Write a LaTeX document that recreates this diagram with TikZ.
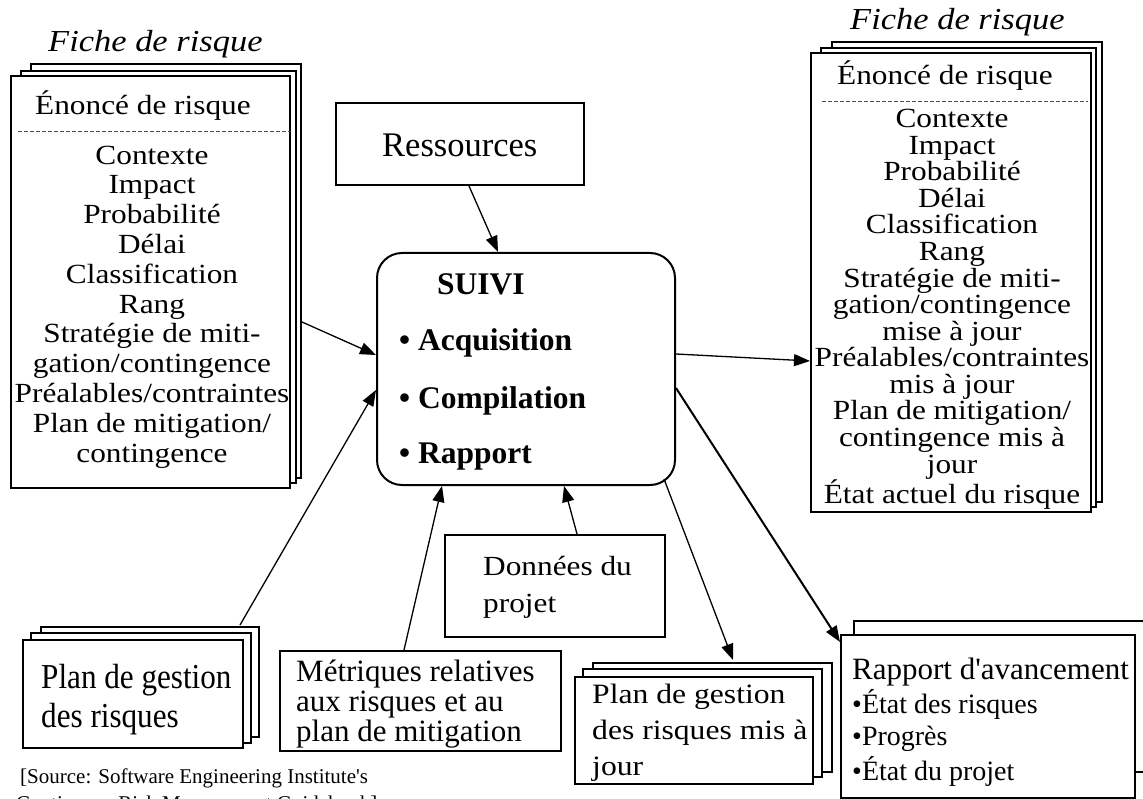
\documentclass[tikz,border=0pt]{standalone}
\usepackage{fontspec}
\newfontfamily\pl{Liberation Serif}
\newfontfamily\sq[FakeStretch=1.13]{Liberation Serif}
\newfontfamily\tl[FakeStretch=0.89]{Liberation Serif}
\newcommand\myfs[2]{\fontsize{#1}{#2}\selectfont}
\usetikzlibrary{arrows.meta,calc}
\begin{document}
\begin{tikzpicture}[x=1pt,y=-1pt,
  box/.style={draw,line width=2pt,fill=white,inner sep=0pt},
  layer/.style={draw,line width=2pt,fill=white},
  arr/.style={line width=1.3pt,-{Triangle[length=16pt,width=12pt]}},
  txt/.style={inner sep=0pt,align=center},
  sep/.style={dash pattern=on 4pt off 2pt,line width=1pt,black!70}]
\useasboundingbox[fill=white] (0,0) rectangle (1143,799);

% ---------- left stack : Fiche de risque ----------
\draw[layer] (31,64) rectangle (301,478);
\draw[layer] (21,71) rectangle (296,483);
\node[box,minimum width=279pt,minimum height=412pt] (lf) at (150.5,282) {};
\node[txt,anchor=base west,font=\sq\itshape\myfs{30.5}{34}] (lt) at (48,52) {Fiche de risque};
\node[txt,anchor=base west,font=\sq\myfs{27.7}{30}] (le) at (35,115) {Énoncé de risque};
\draw[sep] (18,132) -- (290,132);
\node[txt,font=\sq\myfs{27.7}{29.8}] (ll) at (152,307) {Contexte\\Impact\\Probabilité\\Délai\\Classification\\Rang\\Stratégie de miti-\\gation/contingence\\Préalables/contraintes\\Plan de mitigation/\\contingence};

% ---------- right stack : Fiche de risque ----------
\draw[layer] (832,42) rectangle (1102,502);
\draw[layer] (821,48) rectangle (1096,507);
\node[box,minimum width=280pt,minimum height=459pt] (rf) at (951,282.5) {};
\node[txt,anchor=base west,font=\sq\itshape\myfs{30.5}{34}] (rt) at (850,30) {Fiche de risque};
\node[txt,anchor=base west,font=\sq\myfs{27.7}{30}] (re) at (837,85) {Énoncé de risque};
\draw[sep] (822,102) -- (1088,102);
\node[txt,font=\sq\myfs{27.7}{26.57}] (rl) at (952,309.5) {Contexte\\Impact\\Probabilité\\Délai\\Classification\\Rang\\Stratégie de miti-\\gation/contingence\\mise à jour\\Préalables/contraintes\\mis à jour\\Plan de mitigation/\\contingence mis à\\jour\\État actuel du risque};

% ---------- Ressources ----------
\node[box,minimum width=248pt,minimum height=82pt] (res) at (460,144) {};
\node[txt,anchor=base west,font=\pl\myfs{34.5}{38}] (rest) at (382,157) {Ressources};

% ---------- SUIVI ----------
\node[box,rounded corners=25pt,minimum width=298pt,minimum height=232pt] (suivi) at (526,369) {};
\node[txt,anchor=base west,font=\pl\bfseries\myfs{31.5}{36}] (s0) at (437,295) {SUIVI};
\node[txt,anchor=base west,font=\pl\bfseries\myfs{31.5}{36}] (s1) at (399,351) {• Acquisition};
\node[txt,anchor=base west,font=\pl\bfseries\myfs{31.5}{36}] (s2) at (399,408) {• Compilation};
\node[txt,anchor=base west,font=\pl\bfseries\myfs{31.5}{36}] (s3) at (399,463) {• Rapport};

% ---------- Plan de gestion des risques ----------
\draw[layer] (41,627) rectangle (259,737);
\draw[layer] (31,633) rectangle (251,743);
\node[box,minimum width=220pt,minimum height=108pt] (pg) at (133,694) {};
\node[txt,anchor=base west,font=\tl\myfs{35}{39}] (pg1) at (41,688) {Plan de gestion};
\node[txt,anchor=base west,font=\tl\myfs{35}{39}] (pg2) at (41,727) {des risques};

% ---------- Métriques ----------
\node[box,minimum width=281pt,minimum height=100pt] (met) at (420.5,701) {};
\node[txt,anchor=base west,font=\pl\myfs{31}{30}] (m1) at (296,681) {Métriques relatives};
\node[txt,anchor=base west,font=\pl\myfs{31}{30}] (m2) at (296,711) {aux risques et au};
\node[txt,anchor=base west,font=\pl\myfs{31}{30}] (m3) at (296,741) {plan de mitigation};

% ---------- Données du projet ----------
\node[box,minimum width=220pt,minimum height=102pt] (don) at (555,586) {};
\node[txt,anchor=base west,font=\sq\myfs{27.7}{37}] (d1) at (483,575) {Données du};
\node[txt,anchor=base west,font=\sq\myfs{27.7}{37}] (d2) at (483,612) {projet};

% ---------- Plan de gestion des risques mis à jour ----------
\draw[layer] (593,663) rectangle (832,772);
\draw[layer] (583,669) rectangle (822,777);
\node[box,minimum width=238pt,minimum height=107pt] (pu) at (694,730.5) {};
\node[txt,anchor=base west,font=\sq\myfs{28}{36}] (p1) at (592,703) {Plan de gestion};
\node[txt,anchor=base west,font=\sq\myfs{28}{36}] (p2) at (592,739) {des risques mis à};
\node[txt,anchor=base west,font=\sq\myfs{28}{36}] (p3) at (592,775) {jour};

% ---------- Rapport d'avancement ----------
\draw[layer] (854,621) rectangle (1175,772);
\node[box,minimum width=294pt,minimum height=163pt] (ra) at (988,716.5) {};
\node[txt,anchor=base west,font=\pl\myfs{31}{34}] (r0) at (852,679) {Rapport d'avancement};
\node[txt,anchor=base west,font=\pl\myfs{28}{34}] (r1) at (852,713) {•État des risques};
\node[txt,anchor=base west,font=\pl\myfs{28}{34}] (r2) at (852,745) {•Progrès};
\node[txt,anchor=base west,font=\pl\myfs{28}{34}] (r3) at (852,780) {•État du projet};

% ---------- Source ----------
\node[txt,anchor=base west,font=\pl\myfs{21}{27}] (src1) at (20,783) {[Source: Software Engineering Institute's};
\node[txt,anchor=base west,font=\pl\myfs{21}{27}] (src2) at (16,810) {Continuous Risk Management Guidebook]};

% ---------- connectors ----------
\draw[arr] ($(res.south)+(9,0)$) -- ($(suivi.north)+(-28,0)$);
\draw[arr] ($(lf.east)+(11,40)$) -- ($(suivi.west)+(0,-14)$);
\draw[arr] ($(pg.north)+(107,-14)$) -- ($(suivi.west)+(0,21)$);
\draw[arr] ($(met.north)+(-16.5,0)$) -- ($(suivi.south)+(-84,0)$);
\draw[arr] ($(don.north)+(22,0)$) -- ($(suivi.south)+(38,0)$);
\draw[arr] ($(suivi.east)+(0,-15)$) -- ($(rf.west)+(0,78.5)$);
\draw[arr] ($(suivi.south east)+(-12,-7)$) -- ($(pu.north)+(39,-16)$);
\draw[arr,line width=2pt] ($(suivi.east)+(0,19)$) -- ($(ra.north west)+(0,8)$);
\end{tikzpicture}
\end{document}
